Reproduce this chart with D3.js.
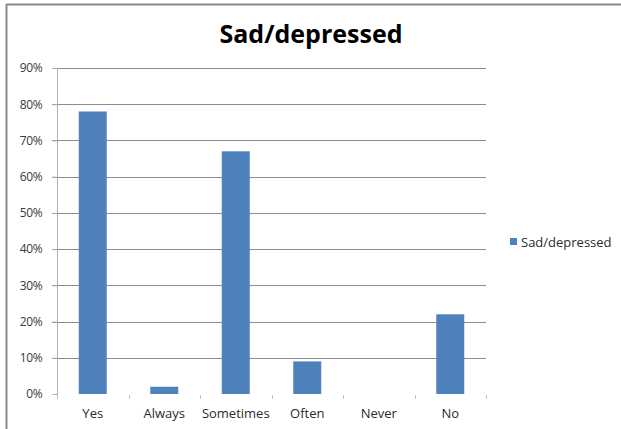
<!DOCTYPE html>
<html>
<head>
<meta charset="utf-8">
<script src="https://cdn.jsdelivr.net/npm/d3@7"></script>
<style>
  html, body { margin: 0; padding: 0; background: #fff; }
  svg { display: block; }
</style>
</head>
<body>
<svg id="chart" width="621" height="429"></svg>
<script>
// Responses for the "Sad/depressed" question (share of respondents)
const categories = ["Yes", "Always", "Sometimes", "Often", "Never", "No"];
const values = [0.78, 0.02, 0.67, 0.09, 0.00, 0.22];
const yTicks = [0, 0.1, 0.2, 0.3, 0.4, 0.5, 0.6, 0.7, 0.8, 0.9];
const seriesName = "Sad/depressed";
const chartTitle = "Sad/depressed";

const svg = d3.select("#chart");
const font = "'Open Sans', 'DejaVu Sans', sans-serif";
const barColor = "#4F81BD";

// outer frame (top and left edges)
svg.append("line").attr("x1", 6).attr("x2", 621).attr("y1", 4.5).attr("y2", 4.5)
  .attr("stroke", "#8a8a8a").attr("stroke-width", 2);
svg.append("line").attr("x1", 6.5).attr("x2", 6.5).attr("y1", 4).attr("y2", 429)
  .attr("stroke", "#8a8a8a").attr("stroke-width", 2);

const plot = { left: 57, right: 486, top: 68, bottom: 394 };

const xb = d3.scaleBand().domain(categories).range([plot.left, plot.right]);
const y = d3.scaleLinear().domain([0, 0.9]).range([plot.bottom, plot.top]);

// gridlines
svg.append("g").selectAll("line").data(yTicks.filter(d => d > 0)).join("line")
  .attr("x1", plot.left - 5).attr("x2", plot.right)
  .attr("y1", d => Math.round(y(d)) + 0.5).attr("y2", d => Math.round(y(d)) + 0.5)
  .attr("stroke", "#8c8c8c").attr("stroke-width", 1);

// y axis
const yAxis = svg.append("g").attr("transform", `translate(${plot.left + 0.5},0)`)
  .call(d3.axisLeft(y).tickValues(yTicks).tickFormat(d3.format(".0%")).tickSize(5).tickPadding(10));
yAxis.select(".domain").attr("stroke", "#b0b0b0").attr("d", `M0,${plot.top}V${plot.bottom + 5}`);
yAxis.selectAll(".tick line").attr("stroke", "#b0b0b0");
yAxis.selectAll("text").attr("font-family", font).attr("font-size", 12).attr("fill", "#3a3a3a")
  .attr("letter-spacing", "-0.3");

// x axis tick marks between categories
const xTickPos = categories.map(c => xb(c)).concat([plot.right]);
svg.append("g").selectAll("line").data(xTickPos).join("line")
  .attr("x1", d => Math.round(d) + 0.5).attr("x2", d => Math.round(d) + 0.5)
  .attr("y1", plot.bottom + 1).attr("y2", plot.bottom + 5)
  .attr("stroke", "#c0c0c0");

// x labels
svg.append("g").selectAll("text").data(categories).join("text")
  .attr("x", d => xb(d) + xb.bandwidth() / 2)
  .attr("y", 418)
  .attr("text-anchor", "middle")
  .attr("font-family", font).attr("font-size", 13).attr("fill", "#2a2a2a")
  .text(d => d);

// bars
svg.append("g").selectAll("rect").data(categories.map((c, i) => ({ c, v: values[i] }))).join("rect")
  .attr("x", d => xb(d.c) + xb.bandwidth() / 2 - 14)
  .attr("width", 28)
  .attr("y", d => y(d.v))
  .attr("height", d => y(0) - y(d.v))
  .attr("fill", barColor);

// title
svg.append("text").attr("x", 311).attr("y", 43).attr("text-anchor", "middle")
  .attr("font-family", font).attr("font-weight", "bold").attr("font-size", 25).attr("fill", "#000")
  .text(chartTitle);

// legend
svg.append("rect").attr("x", 510).attr("y", 238).attr("width", 7).attr("height", 7).attr("fill", barColor);
svg.append("text").attr("x", 521).attr("y", 246.5)
  .attr("font-family", font).attr("font-size", 13).attr("fill", "#2a2a2a")
  .text(seriesName);
</script>
</body>
</html>
